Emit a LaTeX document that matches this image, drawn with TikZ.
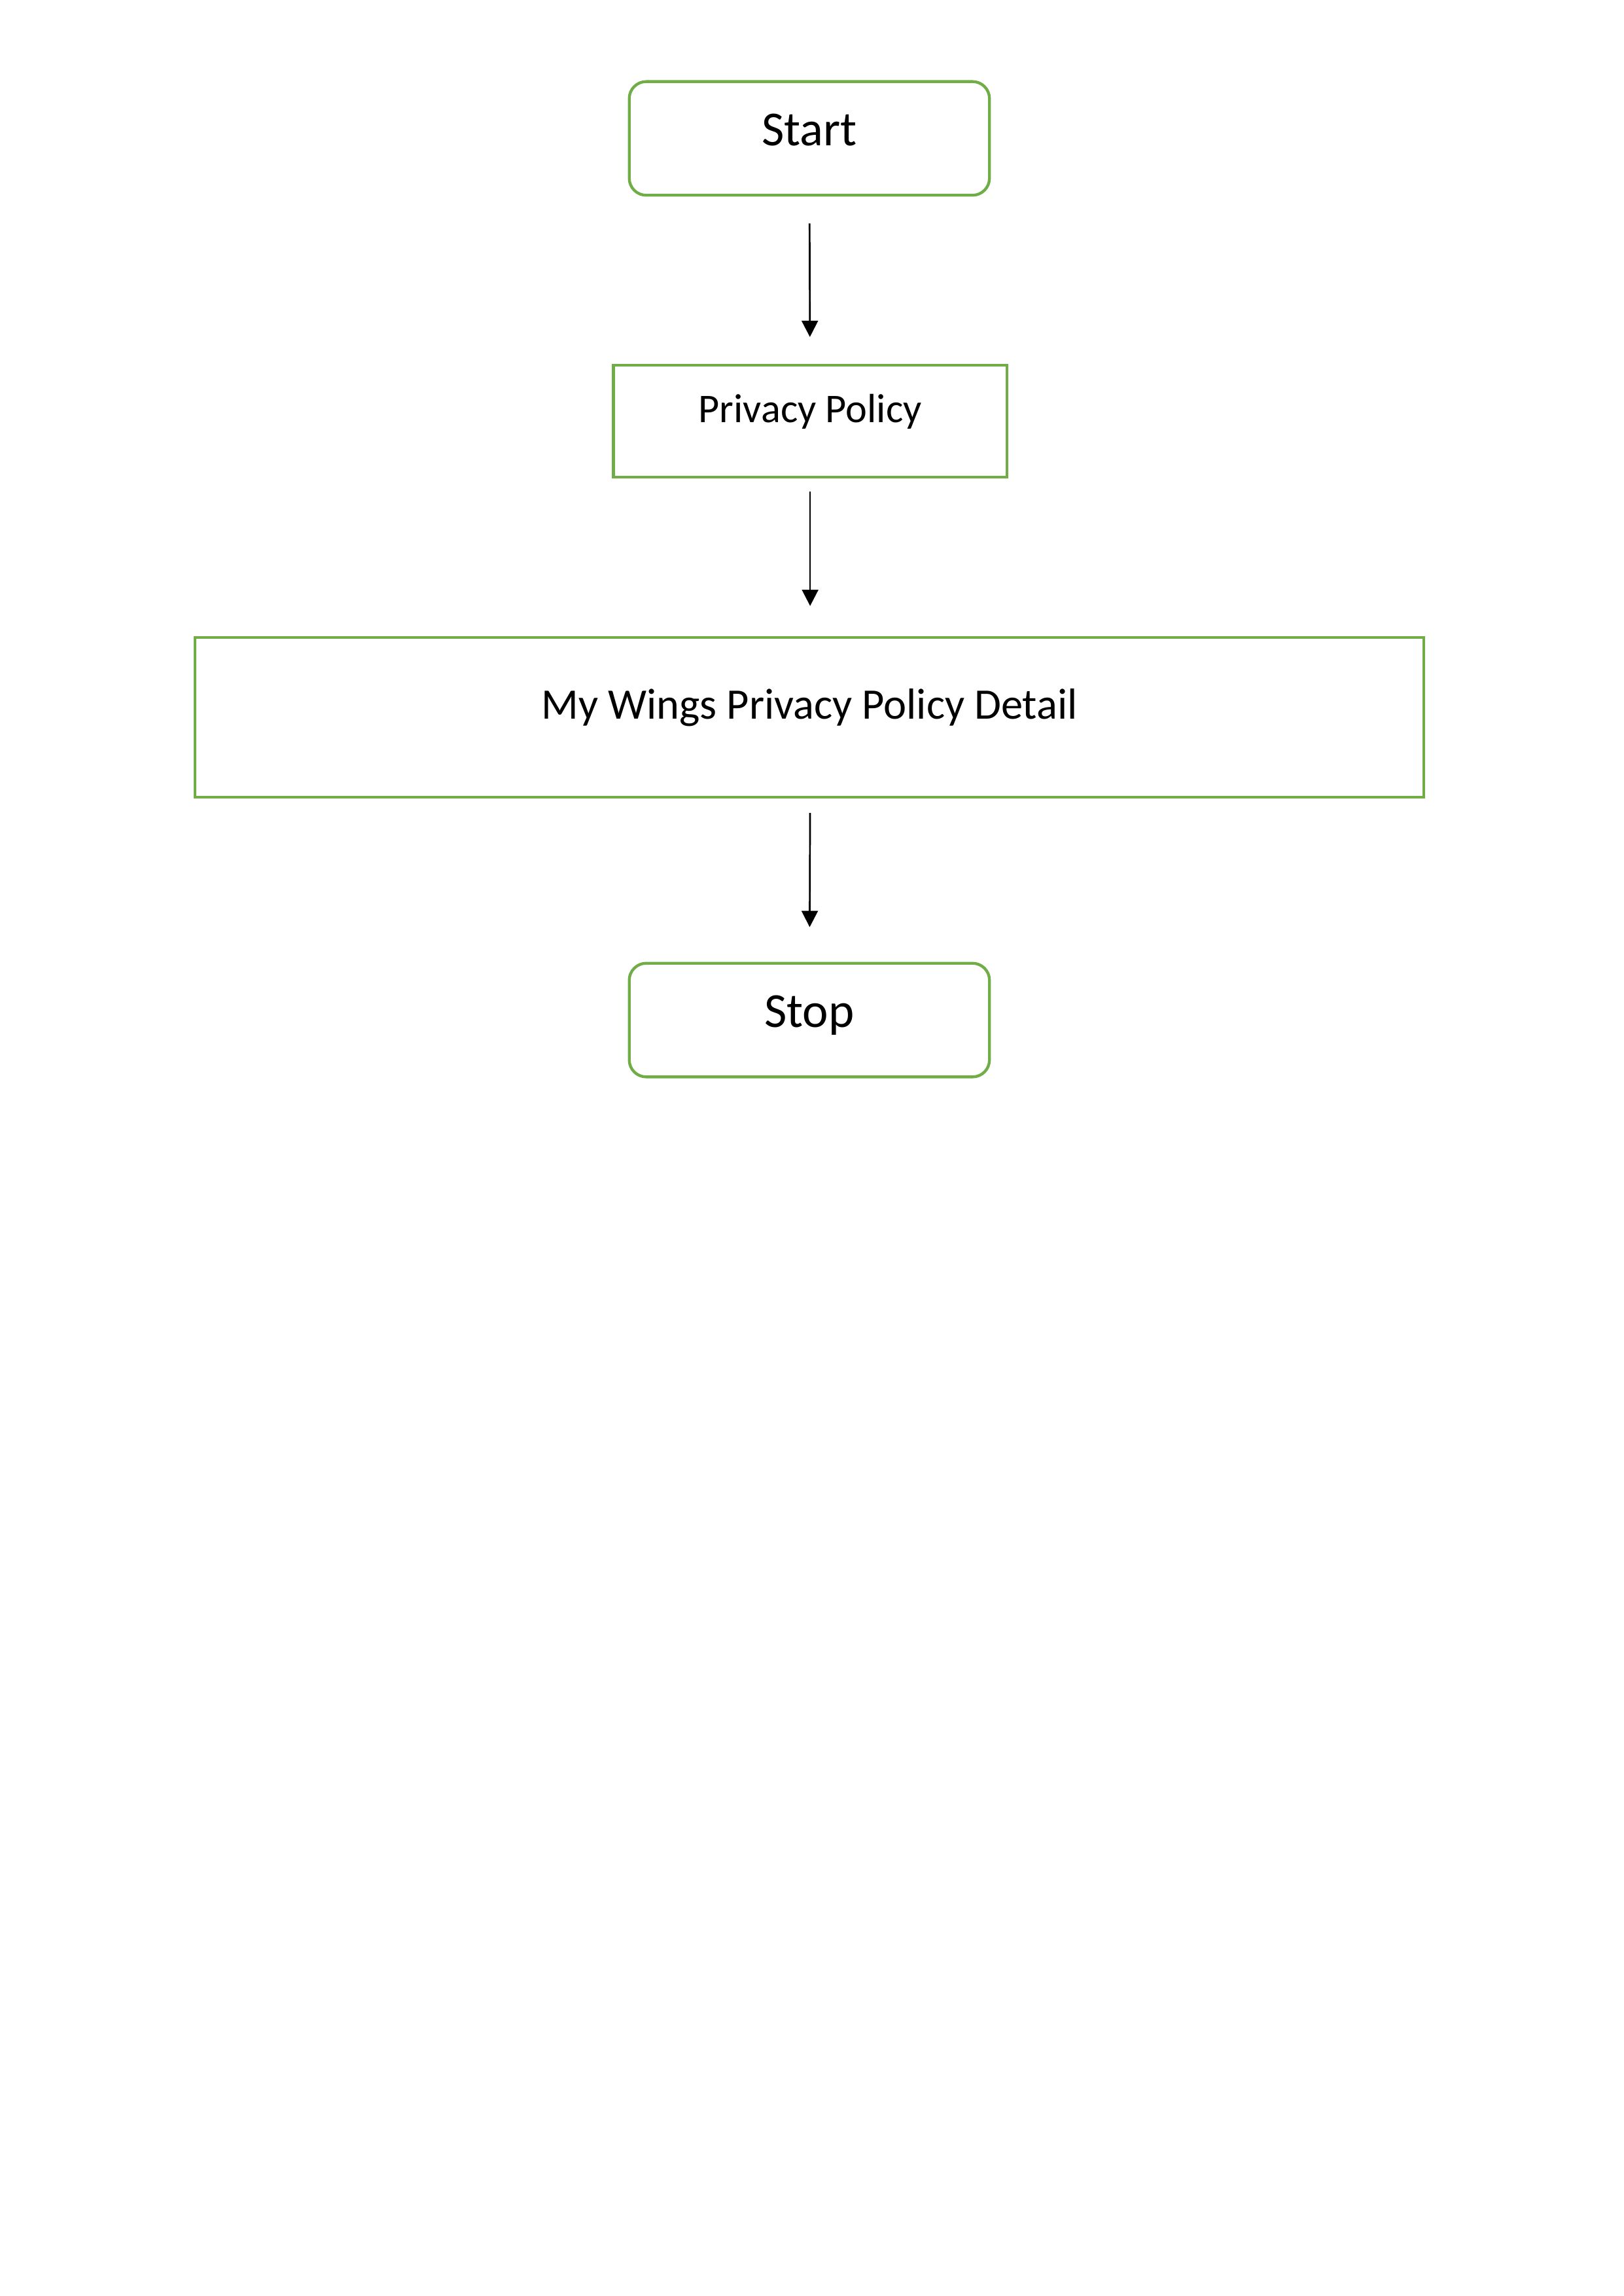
\documentclass[tikz,border=0pt]{standalone}
\usepackage{fontspec}
\setmainfont{Carlito}
\usepackage{tikz}
\usetikzlibrary{arrows.meta}

\begin{document}
\begin{tikzpicture}[
  termbox/.style={draw=boxgreen, line width=1.05pt, rounded corners=0.22cm, inner sep=0pt,
    minimum width=4.66cm, text height=0.825cm, text depth=0.645cm,
    font=\fontsize{18}{21.6}\selectfont},
  procbox/.style={draw=boxgreen, line width=1.05pt, inner sep=0pt},
  flow/.style={-{Triangle[length=2.1mm, width=2.1mm]}, line width=0.65pt}]
\definecolor{boxgreen}{HTML}{70AD47}
\useasboundingbox (0,0) rectangle (21,-29.693);
% draws boxes
\node[termbox] (start) at (10.47,-1.790) {Start};
\node[procbox, minimum width=5.09cm, text height=0.736cm, text depth=0.711cm,
  font=\fontsize{15}{18}\selectfont] (policy) at (10.48,-5.447) {Privacy Policy};
\node[procbox, minimum width=15.90cm, text height=1.050cm, text depth=1.016cm,
  font=\fontsize{16}{19.2}\selectfont] (detail) at (10.47,-9.277) {My Wings Privacy Policy Detail};
\node[termbox] (stop) at (10.47,-13.192) {Stop};
% draws arrows
\draw[flow, shorten <=0.347cm, shorten >=0.347cm] (start) -- (policy);
\draw[flow, shorten <=0.169cm, shorten >=0.389cm] (policy) -- (policy |- detail.north);
\draw[flow, shorten <=0.186cm, shorten >=0.449cm] (policy |- detail.south) -- (stop);
\end{tikzpicture}
\end{document}
